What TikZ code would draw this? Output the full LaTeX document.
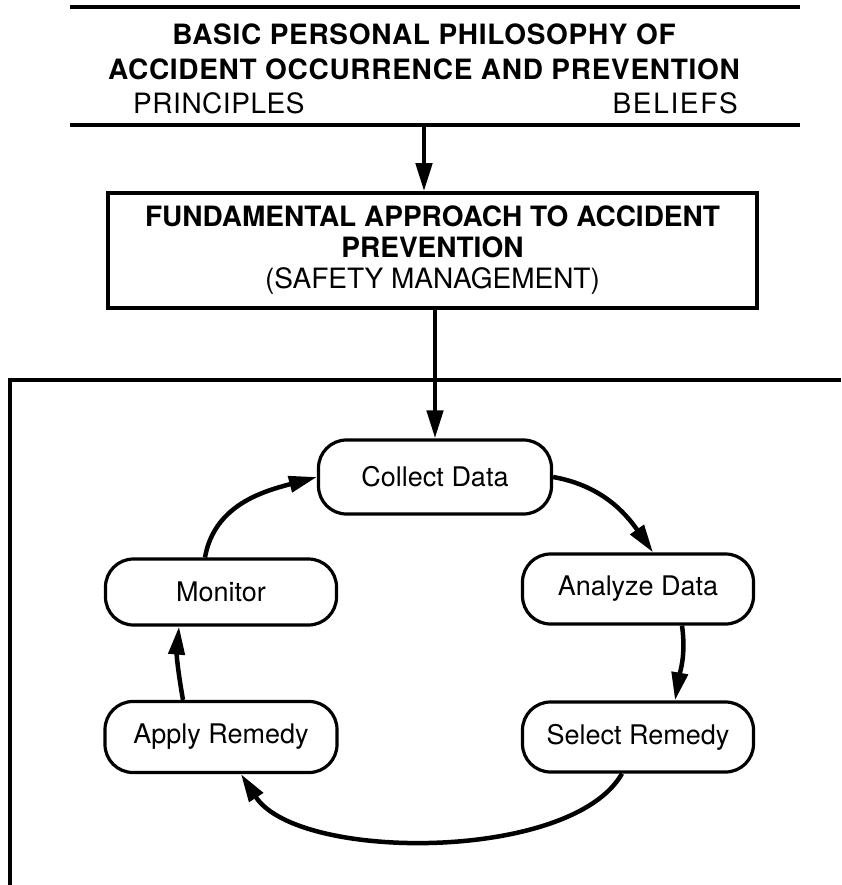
\documentclass[tikz,border=0pt]{standalone}
\usepackage{fontspec}
\setmainfont{TeX Gyre Heros}
\usetikzlibrary{arrows.meta,calc}
\begin{document}
\begin{tikzpicture}[x=1pt,y=-1pt,
  frame/.style={line width=4pt},
  heading/.style={font=\fontsize{28}{35}\selectfont, align=center, inner sep=0pt},
  stage/.style={draw, line width=3.2pt, rounded corners=28pt,
    minimum width=231pt, minimum height=70pt, inner sep=0pt,
    font=\fontsize{27}{32}\selectfont},
  flow/.style={line width=4.5pt, -{Triangle[length=28pt,width=16pt]}}]
\useasboundingbox (0,0) rectangle (841,885);

% philosophy block: ruled above and below
\node[heading, font=\bfseries\fontsize{28}{35}\selectfont\addfontfeatures{LetterSpace=2.5}] (title) at (424,52)
  {BASIC PERSONAL PHILOSOPHY OF\\ACCIDENT OCCURRENCE AND PREVENTION};
\node[heading, anchor=west, font=\fontsize{28}{35}\selectfont\addfontfeatures{LetterSpace=2}] (princ) at (133,103) {PRINCIPLES};
\node[heading, anchor=east, font=\fontsize{28}{35}\selectfont\addfontfeatures{LetterSpace=6}] (bel) at (738,103) {BELIEFS};
\coordinate (philo) at (424,125);
\draw[frame] (70,7) -- (800,7);
\draw[frame] (70,125) -- (800,125);

% approach box
\node[draw, line width=3.5pt, minimum width=649pt, minimum height=115pt,
  inner sep=0pt, heading, font=\fontsize{28}{31}\selectfont] (fund) at (432.5,250.5)
  {\textbf{FUNDAMENTAL APPROACH TO ACCIDENT}\\\textbf{PREVENTION}\\(SAFETY MANAGEMENT)};

% management frame, open to the right and below
\draw[frame] (841,380) -- (10,380) -- (10,885);

% cycle stages
\node[stage, minimum width=233pt, minimum height=74pt] (cd) at (435,477) {Collect Data};
\node[stage, minimum height=66pt] (mon) at (221,592) {Monitor};
\node[stage] (ad) at (638,589) {Analyze Data};
\node[stage] (sr) at (638,737) {Select Remedy};
\node[stage, minimum width=232pt, minimum height=71pt] (ar) at (221,737) {Apply Remedy};

% top-down flow
\draw[flow] (philo) -- (philo |- fund.north);
\draw[flow] (fund.south -| cd.north) -- (cd.north);

% cycle
\draw[flow] (cd.east) to[out=-10,in=125] ($(ad.north)+(15,0)$);
\draw[flow] ($(ad.south)+(44,0)$) to[out=-82,in=80] ($(sr.north)+(37,0)$);
\draw[flow] ($(sr.south)+(-16,0)$) .. controls (572,862) and (298,862) .. ($(ar.south)+(20,0)$);
\draw[flow] ($(ar.north)+(-38,0)$) to[out=100,in=-95] ($(mon.south)+(-42,0)$);
\draw[flow] ($(mon.north)+(-16,0)$) to[out=80,in=195] (cd.west);
\end{tikzpicture}
\end{document}
